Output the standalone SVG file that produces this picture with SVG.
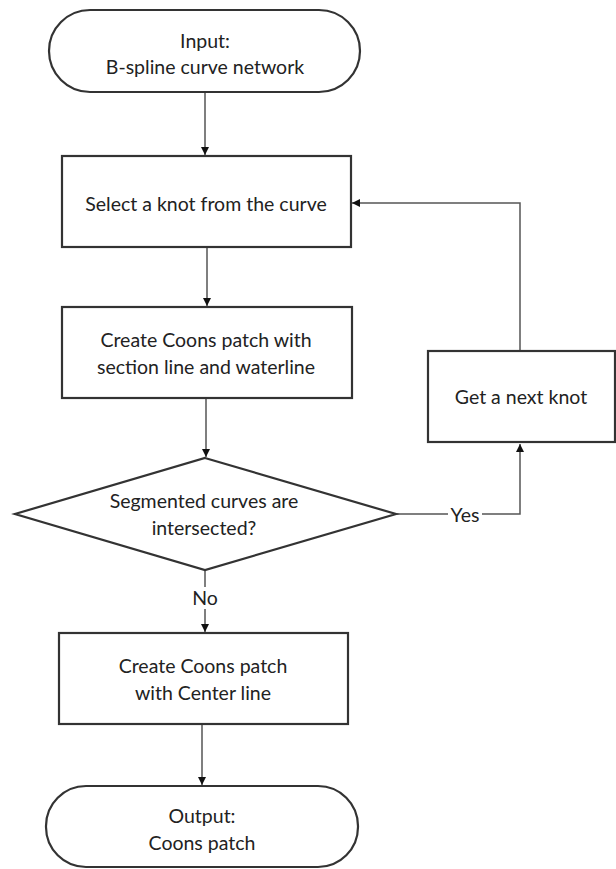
<svg xmlns="http://www.w3.org/2000/svg" width="616" height="869" viewBox="0 0 616 869">
<style>
.n{fill:#fff;stroke:#333;stroke-width:2.2}
.c{fill:none;stroke:#555;stroke-width:1.5}
text{font-family:Lato,"Open Sans",sans-serif;font-size:19.5px;fill:#222;text-anchor:middle;dominant-baseline:central}
</style>
<defs>
<marker id="a" viewBox="0 0 10 10" refX="10" refY="5" markerWidth="8" markerHeight="8" markerUnits="userSpaceOnUse" orient="auto">
<path d="M0,0 L10,5 L0,10 z" fill="#111"/>
</marker>
</defs>
<rect width="616" height="869" fill="#fff"/>
<g id="connectors">
<line class="c" x1="205" y1="93" x2="205" y2="155" marker-end="url(#a)"/>
<line class="c" x1="207" y1="248" x2="207" y2="306" marker-end="url(#a)"/>
<line class="c" x1="206" y1="398" x2="206" y2="457" marker-end="url(#a)"/>
<polyline class="c" points="397,514 520,514 520,444" marker-end="url(#a)"/>
<polyline class="c" points="520,351 520,203 352,203" marker-end="url(#a)"/>
<line class="c" x1="205" y1="571" x2="205" y2="632" marker-end="url(#a)"/>
<line class="c" x1="202" y1="725" x2="202" y2="785" marker-end="url(#a)"/>
<rect x="448" y="503" width="34" height="22" fill="#fff"/>
<text x="465" y="514">Yes</text>
<rect x="190" y="587" width="30" height="22" fill="#fff"/>
<text x="205" y="597">No</text>
</g>
<g id="input">
<rect class="n" x="49" y="10" width="311" height="82" rx="41"/>
<text x="205" y="40">Input:</text>
<text x="205" y="66">B-spline curve network</text>
</g>
<g id="select">
<rect class="n" x="62" y="156" width="289" height="91"/>
<text x="206" y="203">Select a knot from the curve</text>
</g>
<g id="create1">
<rect class="n" x="62" y="307" width="290" height="91"/>
<text x="206" y="339">Create Coons patch with</text>
<text x="206" y="366">section line and waterline</text>
</g>
<g id="decision">
<polygon class="n" points="205,458 396,514 205,570 15,514"/>
<text x="204" y="500">Segmented curves are</text>
<text x="204" y="527">intersected?</text>
</g>
<g id="next">
<rect class="n" x="428" y="351" width="187" height="91"/>
<text x="521" y="396">Get a next knot</text>
</g>
<g id="create2">
<rect class="n" x="59" y="633" width="289" height="91"/>
<text x="203" y="665">Create Coons patch</text>
<text x="203" y="692">with Center line</text>
</g>
<g id="output">
<rect class="n" x="46" y="786" width="312" height="81" rx="40"/>
<text x="202" y="815">Output:</text>
<text x="202" y="842">Coons patch</text>
</g>
</svg>
